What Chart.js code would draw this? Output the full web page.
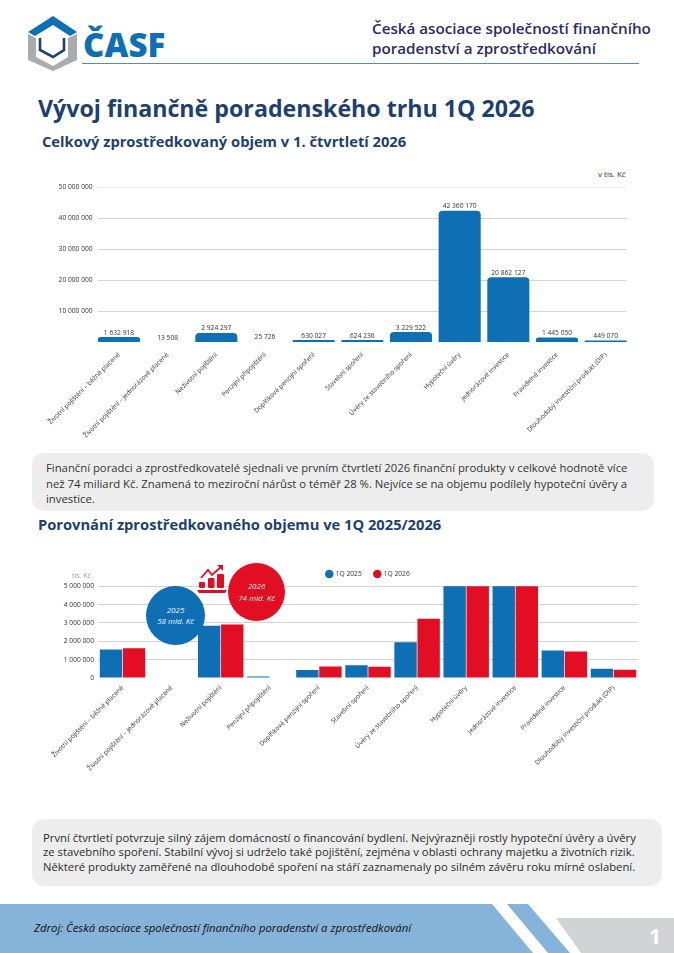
<!DOCTYPE html>
<html lang="cs">
<head>
<meta charset="utf-8">
<title>Vývoj finančně poradenského trhu 1Q 2026</title>
<script src="https://cdn.jsdelivr.net/npm/chart.js@4"></script>
<style>
  html, body { margin: 0; padding: 0; background: #fff; }
  body { position: relative; width: 674px; height: 953px; overflow: hidden; font-family: "Open Sans", sans-serif; }
  .abs { position: absolute; white-space: nowrap; }
  .box { position: absolute; background: #ededed; border-radius: 12px; }
  .box p { position: absolute; margin: 0; color: #2b2b2b; white-space: nowrap; }
  canvas { position: absolute; }
  .bubble { position: absolute; border-radius: 50%; color: #f2f6fa; font-style: italic; text-align: center; font-size: 8px; z-index: 5; }
  .bubble span { position: absolute; left: 0; right: 0; line-height: 12px; }
</style>
</head>
<body>

<svg class="abs" style="left:0;top:0" width="674" height="953">
  <!-- logo -->
  <path d="M28 34 L36 38 L36 57 L53 66 L68 57 L68 38 L77 34 L77 60 L53 71 L28 60 Z" fill="#a9abae"/>
  <path d="M28 32 L53 16 L77 32 L70 36 L53 25 L35 36 Z" fill="#0f6fb5"/>
  <path d="M40 38 L40 50 L53 57 L64 50 L64 38" fill="none" stroke="#1d3f72" stroke-width="2.6"/>
  <rect x="82" y="63" width="557" height="1" fill="#5f86b8"/>
  <!-- footer -->
  <polygon points="0,904 492,904 533,953 0,953" fill="#85b3d9"/>
  <polygon points="507,904 528,904 570,953 548,953" fill="#85b3d9"/>
  <polygon points="556,918 674,918 674,953 581,953" fill="#d2d3d5"/>
</svg>

<div class="abs" style="left:83px;top:23px;font-size:33px;font-weight:800;color:#0f6fb5;line-height:44px">ČASF</div>
<div class="abs" style="left:372px;top:18px;font-size:15.2px;font-weight:600;color:#2a2a6e;line-height:20px">Česká asociace společností finančního<br>poradenství a zprostředkování</div>
<div class="abs" style="left:38px;top:92px;font-size:23.2px;font-weight:700;color:#1d3f72;line-height:32px">Vývoj finančně poradenského trhu 1Q 2026</div>
<div class="abs" style="left:42px;top:131px;font-size:14.7px;font-weight:700;color:#1d3f72;line-height:20px">Celkový zprostředkovaný objem v 1. čtvrtletí 2026</div>
<div class="abs" style="left:38px;top:514px;font-size:14.7px;font-weight:700;color:#1d3f72;line-height:20px">Porovnání zprostředkovaného objemu ve 1Q 2025/2026</div>

<div class="abs" style="left:598px;top:168px;font-size:8px;color:#333;line-height:12px">v tis. Kč</div>
<canvas id="totalChart"></canvas>

<div class="box" style="left:32px;top:453px;width:622px;height:58px">
  <p style="left:14px;top:7px;font-size:11.3px;line-height:15.7px;color:#333">Finanční poradci a zprostředkovatelé sjednali ve prvním čtvrtletí 2026 finanční produkty v celkové hodnotě více<br>než 74 miliard Kč. Znamená to meziroční nárůst o téměř 28 %. Nejvíce se na objemu podílely hypoteční úvěry a<br>investice.</p>
</div>

<div class="abs" style="left:72px;top:570px;font-size:7px;color:#a0a0a0;line-height:12px">tis. Kč</div>
<canvas id="compareChart"></canvas>

<div class="bubble" style="left:146px;top:586px;width:59px;height:59px;background:#0f6fb5"><span style="top:18px">2025</span><span style="top:29px">58 mld. Kč</span></div>
<div class="bubble" style="left:228px;top:563px;width:57px;height:58px;background:#e20e23"><span style="top:17px">2026</span><span style="top:29px">74 mld. Kč</span></div>
<svg class="abs" style="left:196px;top:563px;z-index:4" width="34" height="34">
  <path d="M5 15 L12 7 L16 12 L25 4" fill="none" stroke="#e20e23" stroke-width="1.8"/>
  <path d="M21 2 L27 2 L27 8 Z" fill="#e20e23"/>
  <rect x="3" y="19" width="6" height="6" rx="1" fill="#e20e23"/>
  <rect x="12" y="15" width="6.5" height="10" rx="1" fill="#e20e23"/>
  <rect x="21" y="11" width="7" height="14" rx="1" fill="#e20e23"/>
  <path d="M1 27 L31 27 L29 30 L3 30 Z" fill="#e20e23"/>
</svg>

<div class="box" style="left:32px;top:819px;width:630px;height:67px">
  <p style="left:11px;top:11.5px;font-size:11.3px;line-height:14.6px">První čtvrtletí potvrzuje silný zájem domácností o financování bydlení. Nejvýrazněji rostly hypoteční úvěry a úvěry<br>ze stavebního spoření. Stabilní vývoj si udrželo také pojištění, zejména v oblasti ochrany majetku a životních rizik.<br>Některé produkty zaměřené na dlouhodobé spoření na stáří zaznamenaly po silném závěru roku mírné oslabení.</p>
</div>

<div class="abs" style="left:34px;top:920px;font-size:11.33px;font-style:italic;color:#111;line-height:16px">Zdroj: Česká asociace společností finančního poradenství a zprostředkování</div>
<div class="abs" style="left:649px;top:922px;font-size:21px;font-weight:700;color:#fff;line-height:28px">1</div>

<script>
const categories = [
  'Životní pojištění – běžně placené',
  'Životní pojištění – jednorázově placené',
  'Neživotní pojištění',
  'Penzijní připojištění',
  'Doplňkové penzijní spoření',
  'Stavební spoření',
  'Úvěry ze stavebního spoření',
  'Hypoteční úvěry',
  'Jednorázové investice',
  'Pravidelné investice',
  'Dlouhodobý investiční produkt (DIP)',
];
const volume2026 = [1632918, 13508, 2924297, 25726, 630027, 624236, 3229522, 42360170, 20862127, 1445050, 449070];
// second chart: no bar is visible where it says 0,
// and the two big ones run past the axis so 2025 there is an estimate
const compare2025 = [1550000, 0, 2850000, 80000, 430000, 700000, 1950000, 32000000, 16500000, 1500000, 500000];
const compare2026 = [1620000, 0, 2920000, 0, 630000, 620000, 3230000, 42360000, 20860000, 1440000, 450000];

const BLUE = '#0f6fb5';
const RED = '#e20e23';
const GRID = '#d4d4d4';
const TEXT = '#333';
const FONT = '"Open Sans", sans-serif';

const spaced = (v) => String(v).replace(/\B(?=(\d{3})+(?!\d))/g, ' ');

function place(id, left, top, width, height) {
  const c = document.getElementById(id);
  c.style.left = left + 'px';
  c.style.top = top + 'px';
  c.style.width = width + 'px';
  c.style.height = height + 'px';
  c.width = width;
  c.height = height;
  return c.getContext('2d');
}

// value labels above the bars of the first chart
const valueLabels = {
  id: 'valueLabels',
  afterDatasetsDraw(chart) {
    const ctx = chart.ctx;
    ctx.save();
    ctx.font = '6.7px ' + FONT;
    ctx.fillStyle = '#333';
    ctx.textAlign = 'center';
    ctx.textBaseline = 'bottom';
    chart.getDatasetMeta(0).data.forEach((bar, i) => {
      ctx.fillText(spaced(volume2026[i]), bar.x, bar.y - 1);
    });
    ctx.restore();
  },
};

// gridlines stop a little short of the plot edges in the first chart
const shortGrid = {
  id: 'shortGrid',
  beforeDatasetsDraw(chart) {
    const ctx = chart.ctx;
    const { left, right } = chart.chartArea;
    ctx.save();
    ctx.lineWidth = 1;
    chart.scales.y.ticks.forEach((t, i) => {
      if (t.value === 0) return;
      const y = Math.round(chart.scales.y.getPixelForTick(i)) + 0.5;
      ctx.strokeStyle = t.value === 50000000 ? '#ececec' : GRID;
      ctx.beginPath();
      ctx.moveTo(left + 3.4, y);
      ctx.lineTo(right - 3.4, y);
      ctx.stroke();
    });
    ctx.restore();
  },
};

// legend sits closer to the plot than Chart.js leaves it
const tightLegend = {
  id: 'tightLegend',
  afterInit(chart) {
    const fit = chart.legend.fit;
    chart.legend.fit = function () {
      fit.call(this);
      this.height -= 1;
    };
  },
};

new Chart(place('totalChart', 40, 170, 610, 280), {
  type: 'bar',
  data: {
    labels: categories,
    datasets: [{
      data: volume2026,
      backgroundColor: BLUE,
      borderRadius: 4,
      barPercentage: 1,
      categoryPercentage: 0.865,
    }],
  },
  plugins: [shortGrid, valueLabels],
  options: {
    responsive: false,
    animation: false,
    layout: { padding: { top: 17, right: 20 } },
    plugins: { legend: { display: false }, tooltip: { enabled: false } },
    scales: {
      y: {
        min: 0,
        max: 50000000,
        afterFit(s) { s.width = 54.65; },
        border: { display: false },
        grid: { display: false, drawTicks: false },
        ticks: {
          stepSize: 10000000,
          padding: 2,
          color: TEXT,
          font: { family: FONT, size: 6.7 },
          callback: (v) => (v === 0 ? '' : spaced(v)),
        },
      },
      x: {
        afterFit(s) { s.height = 108; },
        border: { display: false },
        grid: { display: false },
        ticks: {
          maxRotation: 45,
          minRotation: 45,
          autoSkip: false,
          padding: 1,
          color: TEXT,
          font: { family: FONT, size: 6.5 },
        },
      },
    },
  },
});

new Chart(place('compareChart', 40, 558, 610, 242), {
  type: 'bar',
  data: {
    labels: categories,
    datasets: [
      { label: '1Q 2025', data: compare2025, backgroundColor: BLUE },
      { label: '1Q 2026', data: compare2026, backgroundColor: RED },
    ],
  },
  plugins: [tightLegend],
  options: {
    responsive: false,
    animation: false,
    layout: { padding: { right: 12 } },
    datasets: { bar: { categoryPercentage: 0.94, barPercentage: 0.97 } },
    plugins: {
      tooltip: { enabled: false },
      legend: {
        position: 'top',
        fullSize: false,
        labels: {
          usePointStyle: true,
          pointStyle: 'circle',
          boxWidth: 6,
          boxHeight: 6,
          padding: 12.6,
          color: TEXT,
          font: { family: FONT, size: 6.7 },
        },
      },
    },
    scales: {
      y: {
        min: 0,
        max: 5000000,
        afterFit(s) { s.width = 58; },
        border: { display: false },
        grid: {
          drawTicks: false,
          color: (c) => (c.tick && c.tick.value === 0 ? 'transparent' : GRID),
        },
        ticks: {
          stepSize: 1000000,
          padding: 4,
          color: TEXT,
          font: { family: FONT, size: 6.7 },
          callback: (v) => spaced(v),
        },
      },
      x: {
        afterFit(s) { s.height = 122; },
        border: { display: false },
        grid: { display: false, tickLength: 6 },
        ticks: {
          maxRotation: 45,
          minRotation: 45,
          autoSkip: false,
          padding: 0,
          color: TEXT,
          font: { family: FONT, size: 6.5 },
        },
      },
    },
  },
});
</script>
</body>
</html>
